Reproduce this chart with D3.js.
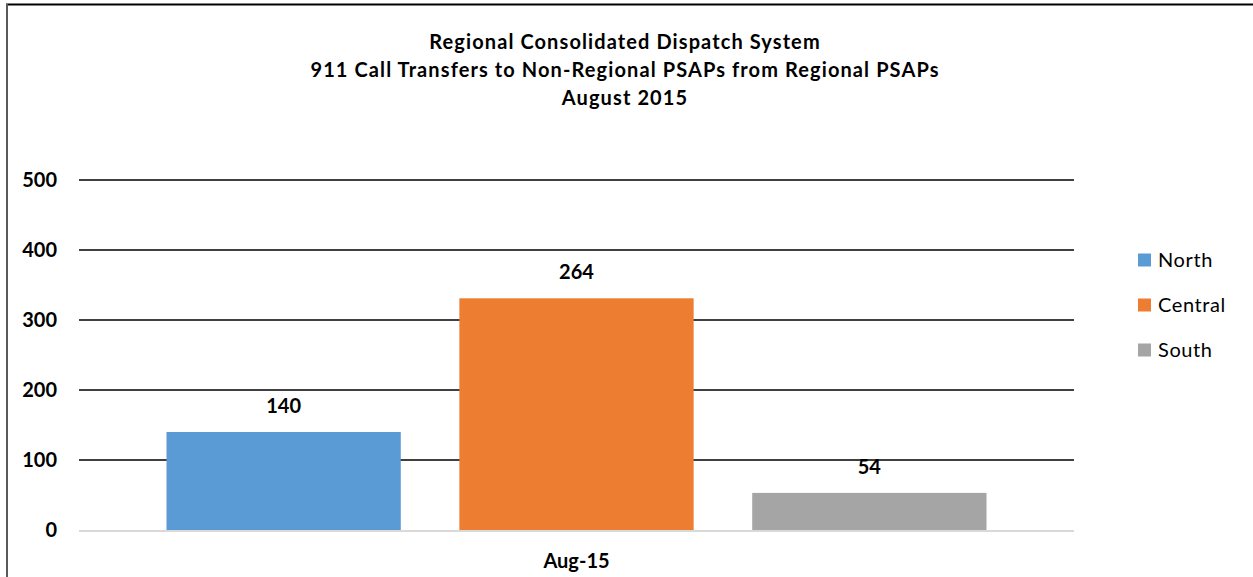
<!DOCTYPE html>
<html>
<head>
<meta charset="utf-8">
<script src="https://cdn.jsdelivr.net/npm/d3@7"></script>
<style>
  body { margin: 0; background: #fff; }
  text { font-family: Lato, "Open Sans", sans-serif; }
</style>
</head>
<body>
<div id="chart"></div>
<script>
// Data
const titleLines = [
  "Regional Consolidated Dispatch System",
  "911 Call Transfers to Non-Regional PSAPs from Regional PSAPs",
  "August 2015"
];
const categories = ["Aug-15"];
const seriesNames = ["North", "Central", "South"];
const seriesValues = [140, 331, 53];       // bar heights as drawn
const seriesLabels = ["140", "264", "54"];  // data labels as printed
const yTicks = [0, 100, 200, 300, 400, 500];
const colors = ["#5b9bd5", "#ed7d31", "#a5a5a5"];

const W = 1253, H = 577;
const plot = { left: 79, right: 1074, top: 180, bottom: 530 };

const svg = d3.select("#chart")
  .append("svg")
  .attr("width", W)
  .attr("height", H);

// Frame
svg.append("line")
  .attr("x1", 6).attr("x2", W).attr("y1", 4.5).attr("y2", 4.5)
  .attr("stroke", "#000").attr("stroke-width", 2);
svg.append("line")
  .attr("x1", 7).attr("x2", 7).attr("y1", 4).attr("y2", H)
  .attr("stroke", "#595959").attr("stroke-width", 2);

// Title
svg.append("g").selectAll("text")
  .data(titleLines)
  .join("text")
  .attr("x", 625)
  .attr("y", (d, i) => 49 + i * 28)
  .attr("text-anchor", "middle")
  .attr("font-size", 20)
  .attr("letter-spacing", 1.1)
  .attr("font-weight", "bold")
  .text(d => d);

const x0 = d3.scaleBand()
  .domain(categories)
  .range([plot.left, plot.right])
  .paddingOuter(0.1067);

const x1 = d3.scaleBand()
  .domain(seriesNames)
  .range([0, x0.bandwidth()])
  .paddingInner(0.2);

const y = d3.scaleLinear()
  .domain([0, 500])
  .range([plot.bottom, plot.top]);

// Gridlines
svg.append("g").selectAll("line")
  .data(yTicks.filter(d => d > 0))
  .join("line")
  .attr("x1", plot.left).attr("x2", plot.right)
  .attr("y1", d => y(d)).attr("y2", d => y(d))
  .attr("stroke", "#000").attr("stroke-width", 1.6);

// Y axis labels
const yAxis = svg.append("g")
  .attr("transform", `translate(${plot.left},0)`)
  .call(d3.axisLeft(y).tickValues(yTicks).tickSize(0).tickPadding(22));
yAxis.select(".domain").remove();
yAxis.selectAll("text")
  .attr("font-family", "Lato, sans-serif")
  .attr("font-size", 20)
  .attr("font-weight", "bold")
  .attr("fill", "#000");

// Bars
const bars = seriesNames.map((name, i) => ({
  cat: categories[0], name, value: seriesValues[i], label: seriesLabels[i], color: colors[i]
}));

svg.append("g").selectAll("rect")
  .data(bars)
  .join("rect")
  .attr("x", d => x0(d.cat) + x1(d.name))
  .attr("y", d => y(d.value))
  .attr("width", x1.bandwidth())
  .attr("height", d => y(0) - y(d.value))
  .attr("fill", d => d.color);

// Zero line
svg.append("line")
  .attr("x1", plot.left).attr("x2", plot.right)
  .attr("y1", y(0) + 1).attr("y2", y(0) + 1)
  .attr("stroke", "#d9d9d9").attr("stroke-width", 2);

// Data labels
svg.append("g").selectAll("text")
  .data(bars)
  .join("text")
  .attr("x", d => x0(d.cat) + x1(d.name) + x1.bandwidth() / 2)
  .attr("y", d => y(d.value) - 19)
  .attr("text-anchor", "middle")
  .attr("font-size", 20)
  .attr("font-weight", "bold")
  .text(d => d.label);

// X axis label
const xAxis = svg.append("g")
  .attr("transform", `translate(0,${plot.bottom})`)
  .call(d3.axisBottom(x0).tickSize(0).tickPadding(24));
xAxis.select(".domain").remove();
xAxis.selectAll("text")
  .attr("font-family", "Lato, sans-serif")
  .attr("font-size", 20)
  .attr("font-weight", "bold")
  .attr("fill", "#000");

// Legend
const legend = svg.append("g").selectAll("g")
  .data(seriesNames)
  .join("g")
  .attr("transform", (d, i) => `translate(1138,${260 + i * 45})`);
legend.append("rect")
  .attr("x", 0).attr("y", -6.5)
  .attr("width", 13).attr("height", 13)
  .attr("fill", (d, i) => colors[i]);
legend.append("text")
  .attr("x", 20).attr("y", 7)
  .attr("font-size", 20)
  .attr("letter-spacing", 0.6)
  .text(d => d);
</script>
</body>
</html>
